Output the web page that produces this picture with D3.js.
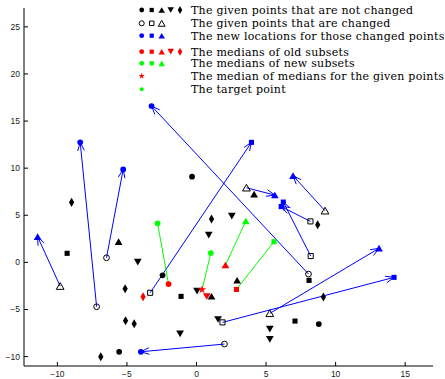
<!DOCTYPE html>
<html>
<head>
<meta charset="utf-8">
<script src="https://cdn.jsdelivr.net/npm/d3@7"></script>
<style>
body{margin:0;background:#fff;}
svg{display:block;}
.tick-label{font-family:"Liberation Sans",Arial,sans-serif;font-size:8.5px;fill:#222;}
.leg{font-family:"DejaVu Serif",serif;font-size:11px;letter-spacing:0.25px;fill:#000;}
</style>
</head>
<body>
<svg id="chart"></svg>
<script>
const W=445,H=379;

// ---- data ----
const xTicks=[-10,-5,0,5,10,15];
const yTicks=[-10,-5,0,5,10,15,20,25];

// given points that are not changed
const keptCircle=[[-0.32,9.09],[-2.44,-1.38],[-5.56,-9.49],[8.79,-6.55]];
const keptSquare=[[-9.30,0.96],[-1.11,-3.61],[8.09,-1.91],[7.08,-6.23]];
const keptTri=[[-5.60,2.19],[4.14,7.22],[2.92,-1.91],[1.08,-3.61]];
const keptTriDown=[[-4.22,0.03],[2.54,4.92],[0.88,2.90],[0.04,-3.05],[-1.18,-7.58],[1.55,-6.05],[5.27,-7.08],[5.27,-8.17]];
const keptDiamond=[[-8.98,6.37],[1.08,4.60],[-5.13,-2.80],[-5.10,-6.20],[-4.48,-6.52],[-6.88,-10.02],[8.71,3.99],[9.12,-3.68]];

// changed points: [old x, old y, new x, new y]
const movedCircle=[[8.05,-1.24,-3.23,16.59],[2.01,-8.67,-4.00,-9.49],[-7.18,-4.71,-8.36,12.74],[-6.47,0.49,-5.27,9.87]];
const movedSquare=[[-3.33,-3.23,3.95,12.74],[1.87,-6.37,14.20,-1.59],[8.19,4.35,6.09,5.92],[8.21,0.67,6.24,6.40]];
const movedTri=[[3.59,7.92,5.63,7.14],[9.24,5.48,6.94,9.19],[5.27,-5.41,13.12,1.49],[-9.80,-2.52,-11.42,2.72]];

// medians of old subsets
const oldMedCircle=[-2.01,-2.30], oldMedSquare=[2.87,-2.87], oldMedTri=[2.08,-0.29];
const oldMedTriDown=[0.74,-3.61], oldMedDiamond=[-3.84,-3.65];
// medians of new subsets
const newMedCircle=[-2.80,4.14], newMedSquare=[5.57,2.19], newMedTri=[3.54,4.38];
const medOfMed=[0.40,-2.89];
const target=[1.03,0.99];

const legendLabels=[
  'The given points that are not changed',
  'The given points that are changed',
  'The new locations for those changed points',
  'The medians of old subsets',
  'The medians of new subsets',
  'The median of medians for the given points',
  'The target point'];

// ---- layout ----
const svg=d3.select('#chart').attr('width',W).attr('height',H);
const x=d3.scaleLinear().domain([-12.4,17]).range([24,433]);
const y=d3.scaleLinear().domain([-11,27]).range([366,8]);

const BLUE='#0000ff',RED='#ff0000',GREEN='#00ff00';
const sym={
  circle:d3.symbolCircle,square:d3.symbolSquare,tri:d3.symbolTriangle,
  down:d3.symbolTriangle,diamond:d3.symbolDiamond,star:d3.symbolStar};
function mark(g,type,px,py,size,fill,stroke){
  const p=d3.symbol().type(sym[type]).size(size)();
  const rot=type==='down'?' rotate(180)':'';
  const dy=(type==='tri')?1:(type==='down'?-1:0);
  g.append('path').attr('d',p)
    .attr('transform',`translate(${px},${py+dy})${rot}`)
    .attr('fill',fill).attr('stroke',stroke||'none').attr('stroke-width',stroke?1:0);
}
const SZ={circle:26,square:26,tri:26,down:26,diamond:24,star:22};

// axes
const ax=svg.append('g');
ax.append('line').attr('x1',x.range()[0]).attr('x2',x.range()[0]).attr('y1',y.range()[1]).attr('y2',y.range()[0]).attr('stroke','#000');
ax.append('line').attr('x1',x.range()[0]).attr('x2',x.range()[1]).attr('y1',y.range()[0]).attr('y2',y.range()[0]).attr('stroke','#000');
xTicks.forEach(t=>{
  ax.append('line').attr('x1',x(t)).attr('x2',x(t)).attr('y1',366).attr('y2',362).attr('stroke','#000');
  ax.append('text').attr('class','tick-label').attr('x',x(t)).attr('y',377).attr('text-anchor','middle').text(t<0?'\u2212'+(-t):t);
});
yTicks.forEach(t=>{
  ax.append('line').attr('x1',24).attr('x2',28).attr('y1',y(t)).attr('y2',y(t)).attr('stroke','#000');
  ax.append('text').attr('class','tick-label').attr('x',20).attr('y',y(t)+3).attr('text-anchor','end').text(t<0?'\u2212'+(-t):t);
});

// lines
const gL=svg.append('g');
function arrow(d){
  const x0=x(d[0]),y0=y(d[1]),x1=x(d[2]),y1=y(d[3]);
  const a=Math.atan2(y1-y0,x1-x0),L=9,h=0.38;
  gL.append('path')
    .attr('d',`M${x0},${y0}L${x1},${y1}M${x1-L*Math.cos(a-h)},${y1-L*Math.sin(a-h)}L${x1},${y1}L${x1-L*Math.cos(a+h)},${y1-L*Math.sin(a+h)}`)
    .attr('fill','none').attr('stroke',BLUE).attr('stroke-width',1);
}
movedCircle.forEach(arrow);movedSquare.forEach(arrow);movedTri.forEach(arrow);
[[oldMedCircle,newMedCircle],[oldMedSquare,newMedSquare],[oldMedTri,newMedTri],[medOfMed,target]].forEach(([a,b])=>{
  gL.append('line').attr('x1',x(a[0])).attr('y1',y(a[1])).attr('x2',x(b[0])).attr('y2',y(b[1]))
    .attr('stroke',GREEN).attr('stroke-width',1);
});

// markers
const gM=svg.append('g');
const put=(arr,type,fill,stroke)=>arr.forEach(d=>mark(gM,type,x(d[0]),y(d[1]),SZ[type],fill,stroke));
put(keptCircle,'circle','#000');put(keptSquare,'square','#000');put(keptTri,'tri','#000');
put(keptTriDown,'down','#000');put(keptDiamond,'diamond','#000');
put(movedCircle,'circle','none','#000');put(movedSquare,'square','none','#000');put(movedTri,'tri','none','#000');
put(movedCircle.map(d=>[d[2],d[3]]),'circle',BLUE);
put(movedSquare.map(d=>[d[2],d[3]]),'square',BLUE);
put(movedTri.map(d=>[d[2],d[3]]),'tri',BLUE);
put([oldMedCircle],'circle',RED);put([oldMedSquare],'square',RED);put([oldMedTri],'tri',RED);
put([oldMedTriDown],'down',RED);put([oldMedDiamond],'diamond',RED);
put([newMedCircle],'circle',GREEN);put([newMedSquare],'square',GREEN);put([newMedTri],'tri',GREEN);
put([medOfMed],'star',RED);
put([target],'circle',GREEN);

// legend
const gLeg=svg.append('g');
const rowY=[10,23.3,35.7,51.7,63.3,76,89.3];
const colX=[141.7,151.7,161.7,170.7,180];
const legRows=[
  [['circle','#000'],['square','#000'],['tri','#000'],['down','#000'],['diamond','#000']],
  [['circle','none','#000'],['square','none','#000'],['tri','none','#000']],
  [['circle',BLUE],['square',BLUE],['tri',BLUE]],
  [['circle',RED],['square',RED],['tri',RED],['down',RED],['diamond',RED]],
  [['circle',GREEN],['square',GREEN],['tri',GREEN]],
  [['star',RED]],
  [['circle',GREEN]]];
legRows.forEach((row,i)=>{
  row.forEach((m,j)=>{
    const s=(i>=5)?12:(m[2]?20:18);
    mark(gLeg,m[0],colX[j],rowY[i],s,m[1],m[2]);
  });
  gLeg.append('text').attr('class','leg').attr('x',191).attr('y',rowY[i]+4).text(legendLabels[i]);
});
</script>
</body>
</html>
